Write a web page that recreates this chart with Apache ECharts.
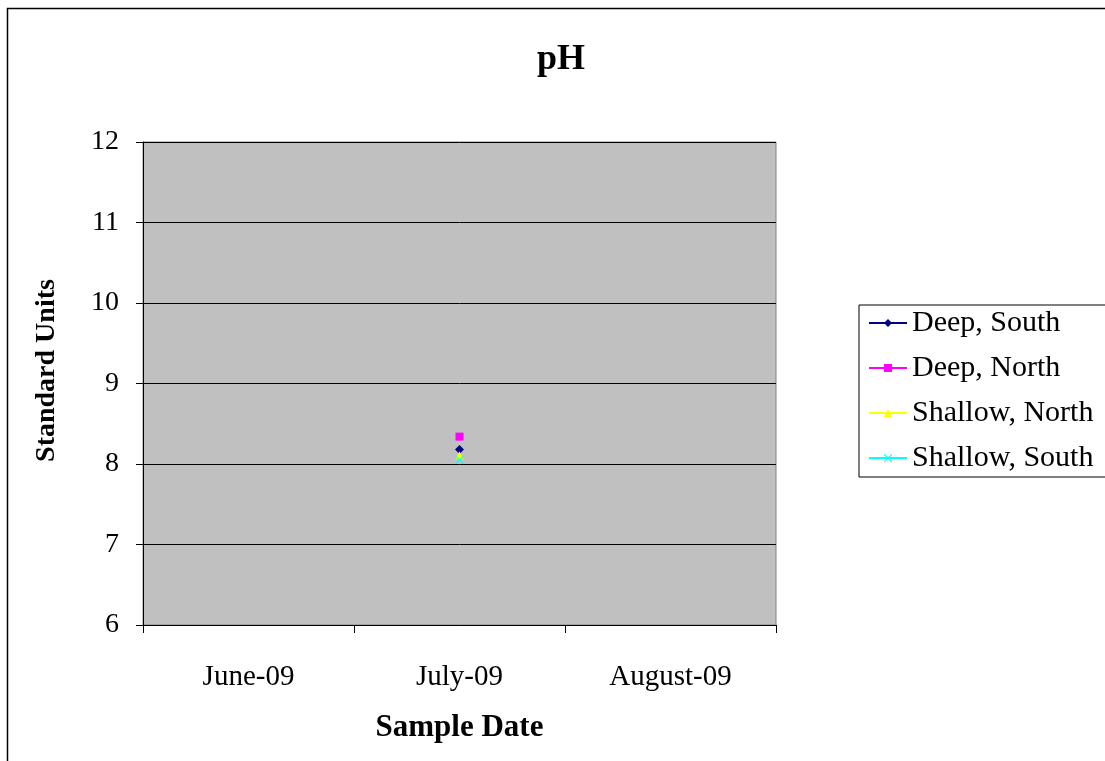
<!DOCTYPE html>
<html>
<head>
<meta charset="utf-8">
<script src="https://cdn.jsdelivr.net/npm/echarts@6/dist/echarts.min.js"></script>
<style>
  html, body { margin: 0; padding: 0; background: #fff; }
  #chart { width: 1105px; height: 761px; }
</style>
</head>
<body>
<div id="chart"></div>
<script>
// categories and values
var months = ['June-09', 'July-09', 'August-09'];
var deepSouth = [null, 8.18, null];
var deepNorth = [null, 8.34, null];
var shallowNorth = [null, 8.11, null];
var shallowSouth = [null, 8.05, null];
var yTicks = [6, 7, 8, 9, 10, 11, 12];

var FONT = '"Liberation Serif", "Times New Roman", serif';

function makeSeries(name, data, color, symbol, size) {
    return {
        name: name,
        type: 'line',
        data: data,
        symbol: symbol,
        symbolSize: size,
        showAllSymbol: true,
        connectNulls: false,
        lineStyle: { color: color, width: 1.5 },
        itemStyle: { color: color }
    };
}

var chart = echarts.init(document.getElementById('chart'));
chart.setOption({
    animation: false,
    backgroundColor: '#ffffff',
    title: {
        text: 'pH',
        left: 556,
        top: 37,
        textAlign: 'center',
        textStyle: { fontFamily: FONT, fontSize: 36, fontWeight: 'bold', color: '#000' }
    },
    graphic: [
        {   // outer chart border
            type: 'rect',
            shape: { x: 7.5, y: 8.5, width: 1200, height: 800 },
            style: { fill: 'none', stroke: '#000', lineWidth: 1.5 },
            silent: true
        }
    ],
    grid: {
        left: 143,
        right: 329,
        top: 142,
        bottom: 136,
        show: true,
        backgroundColor: '#C0C0C0',
        borderColor: '#808080',
        borderWidth: 1
    },
    legend: {
        orient: 'vertical',
        left: 859,
        top: 305,
        padding: [3, 20, 4, 9],
        itemGap: 15,
        itemWidth: 38,
        itemHeight: 10,
        backgroundColor: '#fff',
        borderColor: '#000',
        borderWidth: 1,
        textStyle: { fontFamily: FONT, fontSize: 30, color: '#000' },
        data: ['Deep, South', 'Deep, North', 'Shallow, North', 'Shallow, South']
    },
    xAxis: {
        type: 'category',
        data: months,
        boundaryGap: true,
        name: 'Sample Date',
        nameLocation: 'middle',
        nameGap: 87,
        nameTextStyle: { fontFamily: FONT, fontSize: 31, fontWeight: 'bold', color: '#000' },
        axisLine: { lineStyle: { color: '#000', width: 1 } },
        axisTick: { show: true, length: 8, inside: false, lineStyle: { color: '#000' } },
        axisLabel: { fontFamily: FONT, fontSize: 29, color: '#000', margin: 38 },
        splitLine: { show: false }
    },
    yAxis: {
        type: 'value',
        min: yTicks[0],
        max: yTicks[yTicks.length - 1],
        interval: 1,
        name: 'Standard Units',
        nameLocation: 'middle',
        nameGap: 82,
        nameRotate: 90,
        nameTextStyle: { fontFamily: FONT, fontSize: 28, fontWeight: 'bold', color: '#000', padding: [0, 0, 0, 26] },
        axisLine: { show: true, lineStyle: { color: '#000', width: 1 } },
        axisTick: { show: true, length: 7, lineStyle: { color: '#000' } },
        axisLabel: { fontFamily: FONT, fontSize: 28, color: '#000', margin: 24 },
        splitLine: { show: true, lineStyle: { color: '#000', width: 1 } }
    },
    series: [
        makeSeries('Deep, South', deepSouth, '#000080', 'diamond', 9),
        makeSeries('Deep, North', deepNorth, '#FF00FF', 'rect', 8),
        makeSeries('Shallow, North', shallowNorth, '#FFFF00', 'triangle', 8),
        makeSeries('Shallow, South', shallowSouth, '#00FFFF',
            'path://M0,0L1,0L5,4L9,0L10,0L10,1L6,5L10,9L10,10L9,10L5,6L1,10L0,10L0,9L4,5L0,1Z', 8)
    ]
});
</script>
</body>
</html>
